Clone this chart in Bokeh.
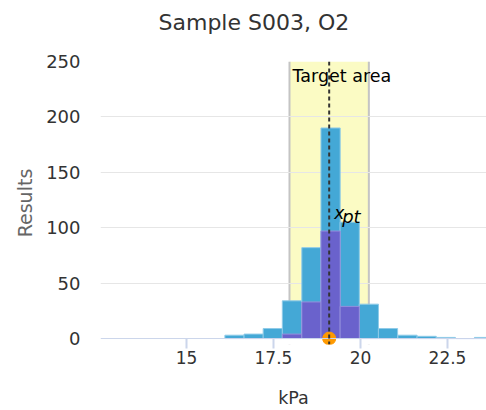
from bokeh.plotting import figure
from bokeh.models import Range1d, FixedTicker, BoxAnnotation, Span, Label, ColumnDataSource, Title
from bokeh.embed import file_html
from bokeh.resources import INLINE

# ---- data ----
title_text = "Sample S003, O2"
bin_centers = [16.38, 16.93, 17.48, 18.03, 18.59, 19.14, 19.69, 20.24, 20.79, 21.35, 21.90, 22.45, 23.00, 23.55]
bin_width = 0.552
all_results = [3, 4, 9, 34, 82, 190, 105, 31, 9, 3, 2, 1, 0, 1]
subset_results = [0, 0, 0, 4, 33, 97, 29, 0, 0, 0, 0, 0, 0, 0]
x_pt = 19.10
target_low = 17.96
target_high = 20.24
x_ticks = [15, 17.5, 20, 22.5]
x_tick_labels = ["15", "17.5", "20", "22.5"]
y_ticks = [0, 50, 100, 150, 200, 250]

FONT = "DejaVu Sans"

# y range starts a little below zero so the marker at y=0 is not cut off;
# the baseline at 0 is drawn as a span.
p = figure(width=486, height=410, output_backend="svg", toolbar_location=None,
           x_range=Range1d(12.53, 23.62), y_range=Range1d(-5.4, 250),
           min_border_left=100, min_border_right=0, min_border_top=61, min_border_bottom=65)
p.outline_line_color = None
p.background_fill_color = "white"
p.border_fill_color = "white"

# spacer title (next to the frame) and main title above it
p.add_layout(Title(text=" ", text_font_size="10px", standoff=7), "above")
p.add_layout(Title(text=title_text, align="left", offset=58, text_font=FONT,
                   text_font_size="22px", text_font_style="normal", text_color="#333333",
                   standoff=14), "above")

# grid
p.xgrid.visible = False
p.ygrid.grid_line_color = "#e6e6e6"
p.ygrid.ticker = FixedTicker(ticks=y_ticks[1:])

# y axis
p.yaxis.ticker = FixedTicker(ticks=y_ticks)
p.yaxis.axis_line_color = None
p.yaxis.major_tick_line_color = None
p.yaxis.minor_tick_line_color = None
p.yaxis.major_tick_out = 0
p.yaxis.major_label_standoff = 20
p.yaxis.major_label_text_font = FONT
p.yaxis.major_label_text_font_size = "18px"
p.yaxis.major_label_text_color = "#333333"
p.yaxis.axis_label = "Results"
p.yaxis.axis_label_text_font = FONT
p.yaxis.axis_label_text_font_size = "19px"
p.yaxis.axis_label_text_font_style = "normal"
p.yaxis.axis_label_text_color = "#666666"
p.yaxis.axis_label_standoff = 7

# x axis
p.xaxis.ticker = FixedTicker(ticks=x_ticks)
p.xaxis.major_label_overrides = {t: l for t, l in zip(x_ticks, x_tick_labels)}
p.xaxis.axis_line_color = None
p.xaxis.major_tick_line_color = "#ccd6eb"
p.xaxis.major_tick_line_width = 2
p.xaxis.major_tick_in = 6
p.xaxis.major_tick_out = 4
p.xaxis.minor_tick_line_color = None
p.xaxis.major_label_standoff = 2
p.xaxis.major_label_text_font = FONT
p.xaxis.major_label_text_font_size = "17px"
p.xaxis.major_label_text_color = "#333333"
p.xaxis.axis_label = "kPa"
p.xaxis.axis_label_text_font = FONT
p.xaxis.axis_label_text_font_size = "17.5px"
p.xaxis.axis_label_text_font_style = "normal"
p.xaxis.axis_label_text_color = "#333333"
p.xaxis.axis_label_standoff = 21

# target band
band = BoxAnnotation(left=target_low, right=target_high, bottom=0, fill_color="#fbfbc4", fill_alpha=1.0,
                     line_color=None, level="image")
p.add_layout(band)
for edge in (target_low, target_high):
    p.add_layout(Span(location=edge, dimension="height", line_color="#c4c4c4", line_width=2, level="image"))

src = ColumnDataSource(dict(x=bin_centers, all=all_results, sub=subset_results))
p.vbar(x="x", width=bin_width, top="all", bottom=0, source=src,
       fill_color="#44a8d6", line_color="#8fcbe8", line_width=1)
p.vbar(x="x", width=bin_width, top="sub", bottom=0, source=src,
       fill_color="#6a62cc", line_color="#948fdc", line_width=1)

# baseline (x axis line at y = 0)
p.add_layout(Span(location=0, dimension="width", line_color="#ccd6eb", line_width=1, level="annotation"))
# white strip under baseline to hide band/edges below zero
p.add_layout(BoxAnnotation(top=0, fill_color="white", fill_alpha=1.0, line_color=None, level="underlay"))

p.add_layout(Span(location=x_pt, dimension="height", line_color="#333333", line_width=2,
                  line_dash="4 3"))

p.scatter(x=[x_pt], y=[0], size=13, fill_color="#ff9a00", line_color="#ff9a00")

p.add_layout(Label(x=target_low, y=250, x_offset=3, y_offset=-14, text="Target area",
                   text_font=FONT, text_font_size="17.5px", text_color="#000000",
                   text_align="left", text_baseline="alphabetic"))
p.add_layout(Label(x=x_pt, y=113, x_offset=5, y_offset=0, text="x",
                   text_font=FONT, text_font_size="17px", text_font_style="italic",
                   text_color="#000000", text_align="left", text_baseline="alphabetic"))
p.add_layout(Label(x=x_pt, y=113, x_offset=13, y_offset=-3, text="pt",
                   text_font=FONT, text_font_size="18px", text_font_style="italic",
                   text_color="#000000", text_align="left", text_baseline="alphabetic"))

open("out.html", "w").write(file_html(p, INLINE))
